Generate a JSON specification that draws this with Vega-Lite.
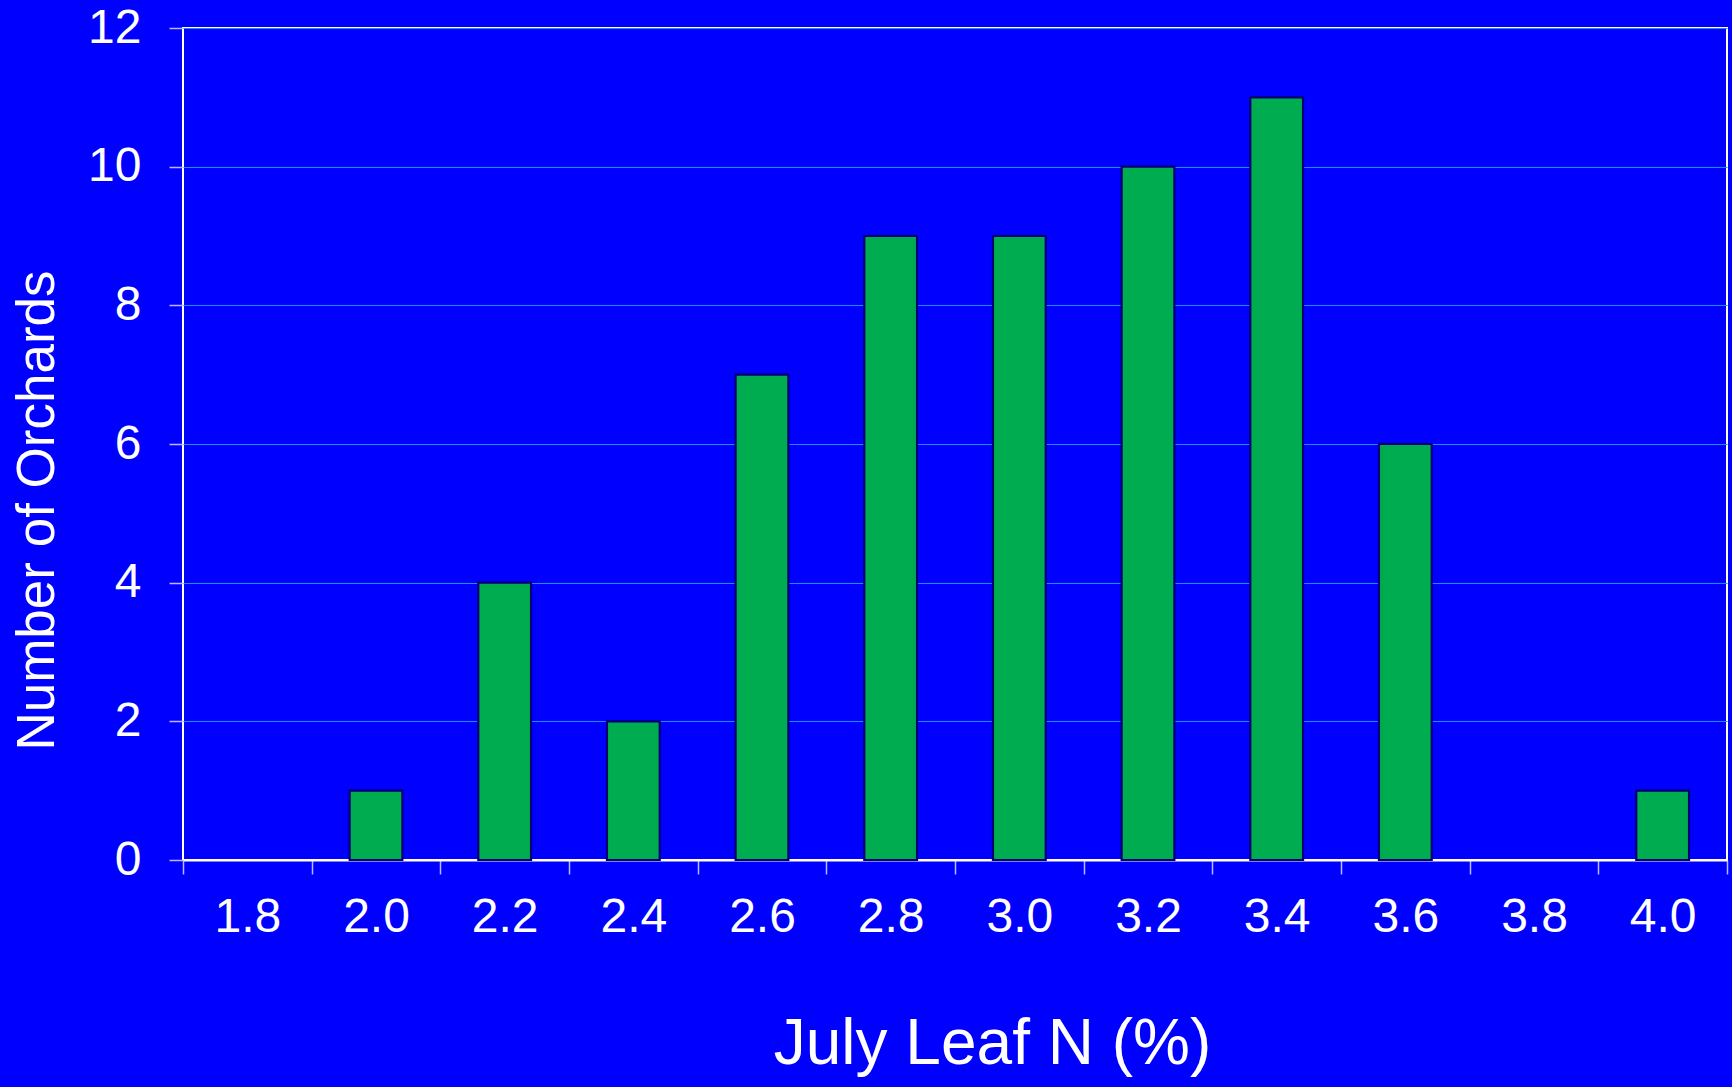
{
  "$schema": "https://vega.github.io/schema/vega-lite/v6.json",
  "autosize": {"type": "none"},
  "width": 1544,
  "height": 832,
  "padding": {"left": 183, "top": 28, "right": 5, "bottom": 227},
  "background": "#0000FF",
  "config": {
    "font": "Liberation Sans",
    "view": {"stroke": "#FFFFFF", "strokeWidth": 2, "fill": "#0000FF"}
  },
  "data": {
    "values": [
      {"leafN": "1.8", "orchards": 0},
      {"leafN": "2.0", "orchards": 1},
      {"leafN": "2.2", "orchards": 4},
      {"leafN": "2.4", "orchards": 2},
      {"leafN": "2.6", "orchards": 7},
      {"leafN": "2.8", "orchards": 9},
      {"leafN": "3.0", "orchards": 9},
      {"leafN": "3.2", "orchards": 10},
      {"leafN": "3.4", "orchards": 11},
      {"leafN": "3.6", "orchards": 6},
      {"leafN": "3.8", "orchards": 0},
      {"leafN": "4.0", "orchards": 1}
    ]
  },
  "mark": {"type": "bar", "fill": "#00AC50", "stroke": "#000070", "strokeWidth": 2.2, "width": {"band": 0.41}},
  "encoding": {
    "strokeOpacity": {"condition": {"test": "datum.orchards > 0", "value": 1}, "value": 0},
    "x": {
      "field": "leafN",
      "type": "ordinal",
      "sort": ["1.8","2.0","2.2","2.4","2.6","2.8","3.0","3.2","3.4","3.6","3.8","4.0"],
      "scale": {"paddingInner": 0, "paddingOuter": 0},
      "axis": {
        "title": "July Leaf N (%)",
        "titleFontSize": 64,
        "titleFontWeight": "normal",
        "titleColor": "#FFFFFF",
        "titleX": 809,
        "titleY": 203,
        "titleBaseline": "alphabetic",
        "titleAnchor": "middle",
        "titleAlign": "center",
        "labelAngle": 0,
        "labelFontSize": 48,
        "labelColor": "#FFFFFF",
        "labelPadding": 19,
        "tickBand": "extent",
        "tickSize": 14,
        "tickColor": "#B8B8FF",
        "tickWidth": 1.5,
        "domainColor": "#FFFFFF",
        "domainWidth": 2,
        "grid": false
      }
    },
    "y": {
      "field": "orchards",
      "type": "quantitative",
      "scale": {"domain": [0, 12], "nice": false},
      "axis": {
        "title": "Number of Orchards",
        "titleFontSize": 53,
        "titleFontWeight": "normal",
        "titleColor": "#FFFFFF",
        "titleAngle": -90,
        "titleX": -130,
        "titleY": 482,
        "titleBaseline": "alphabetic",
        "titleAlign": "center",
        "values": [0, 2, 4, 6, 8, 10, 12],
        "labelFontSize": 48,
        "labelColor": "#FFFFFF",
        "labelPadding": 28,
        "tickSize": 14,
        "tickColor": "#B8B8FF",
        "tickWidth": 1.5,
        "domain": false,
        "grid": true,
        "gridColor": "#1A8CFF",
        "gridWidth": 1
      }
    }
  }
}
